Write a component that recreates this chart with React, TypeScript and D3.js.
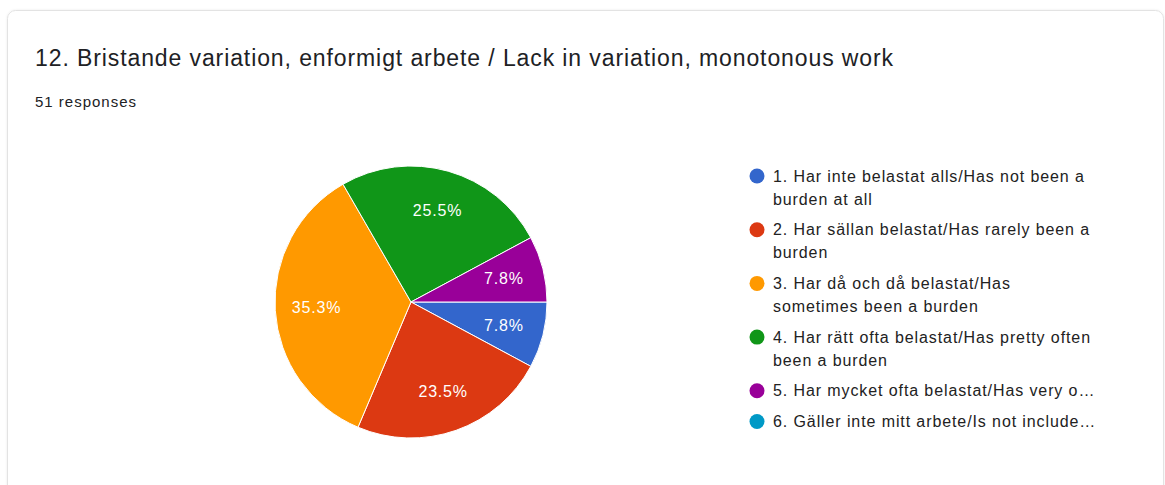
import React from "react";
import * as d3 from "d3";

const title = "12. Bristande variation, enformigt arbete / Lack in variation, monotonous work";
const subtitle = "51 responses";
const categories = [
  "1. Har inte belastat alls/Has not been a burden at all",
  "2. Har sällan belastat/Has rarely been a burden",
  "3. Har då och då belastat/Has sometimes been a burden",
  "4. Har rätt ofta belastat/Has pretty often been a burden",
  "5. Har mycket ofta belastat/Has very o…",
  "6. Gäller inte mitt arbete/Is not include…",
];
const legendLines = [
  ["1. Har inte belastat alls/Has not been a", "burden at all"],
  ["2. Har sällan belastat/Has rarely been a", "burden"],
  ["3. Har då och då belastat/Has", "sometimes been a burden"],
  ["4. Har rätt ofta belastat/Has pretty often", "been a burden"],
  ["5. Har mycket ofta belastat/Has very o…"],
  ["6. Gäller inte mitt arbete/Is not include…"],
];
const counts = [4, 12, 18, 13, 4, 0];
const colors = ["#3366cc", "#dc3912", "#ff9900", "#109618", "#990099", "#0099c6"];

const W = 1165;
const H = 485;
const cx = 411;
const cy = 302;
const R = 136;

export default function App() {
  const total = d3.sum(counts);
  const pie = d3
    .pie<number>()
    .sort(null)
    .value((d) => d)
    .startAngle(Math.PI / 2)
    .endAngle(Math.PI / 2 + 2 * Math.PI);
  const arcs = pie(counts);
  const arc = d3.arc<d3.PieArcDatum<number>>().innerRadius(0).outerRadius(R);
  const labelArc = d3.arc<d3.PieArcDatum<number>>().innerRadius(R * 0.7).outerRadius(R * 0.7);
  const font = "'Liberation Sans', Arial, Helvetica, sans-serif";

  let y = 176;
  const lineH = 23;
  const legendRows: { lines: string[]; y: number; i: number }[] = [];
  legendLines.forEach((lines, i) => {
    legendRows.push({ lines, y, i });
    y += lines.length * lineH + 7.7;
  });

  return (
    <div style={{ position: "fixed", left: 0, top: 0 }}>
      <svg width={W} height={H} style={{ display: "block", background: "#fff" }} fontFamily={font}>
        <defs>
          <filter id="sh" x="-5%" y="-5%" width="110%" height="110%">
            <feDropShadow dx="0" dy="0" stdDeviation="1" floodColor="#000" floodOpacity="0.08" />
          </filter>
        </defs>
        <rect x={7.5} y={10.5} width={1156} height={500} rx={8} fill="#fff" stroke="#e3e3e3" strokeWidth={1} filter="url(#sh)" />
        <text x={35} y={66} fontSize={23} letterSpacing={0.9} fill="#202124">{title}</text>
        <text x={35} y={107} fontSize={15} letterSpacing={1} fill="#202124">{subtitle}</text>
        <g transform={`translate(${cx},${cy})`}>
          {arcs.map((a, i) =>
            a.value > 0 ? (
              <path key={i} d={arc(a) || ""} fill={colors[i]} stroke="#fff" strokeWidth={1} />
            ) : null
          )}
          {arcs.map((a, i) => {
            if (a.value <= 0) return null;
            const [lx, ly] = labelArc.centroid(a);
            return (
              <text key={"l" + i} x={lx + 0.5} y={ly} dy="0.35em" textAnchor="middle" fontSize={16} letterSpacing={0.8} fill="#fff">
                {((a.value / total) * 100).toFixed(1)}%
              </text>
            );
          })}
        </g>
        {legendRows.map((r) => (
          <g key={r.i}>
            <circle cx={757} cy={r.y} r={7.5} fill={colors[r.i]} />
            {r.lines.map((ln, j) => (
              <text key={j} x={773} y={r.y + j * lineH} dy="0.35em" fontSize={16} letterSpacing={0.9} fill="#222">
                {ln}
              </text>
            ))}
          </g>
        ))}
      </svg>
    </div>
  );
}
